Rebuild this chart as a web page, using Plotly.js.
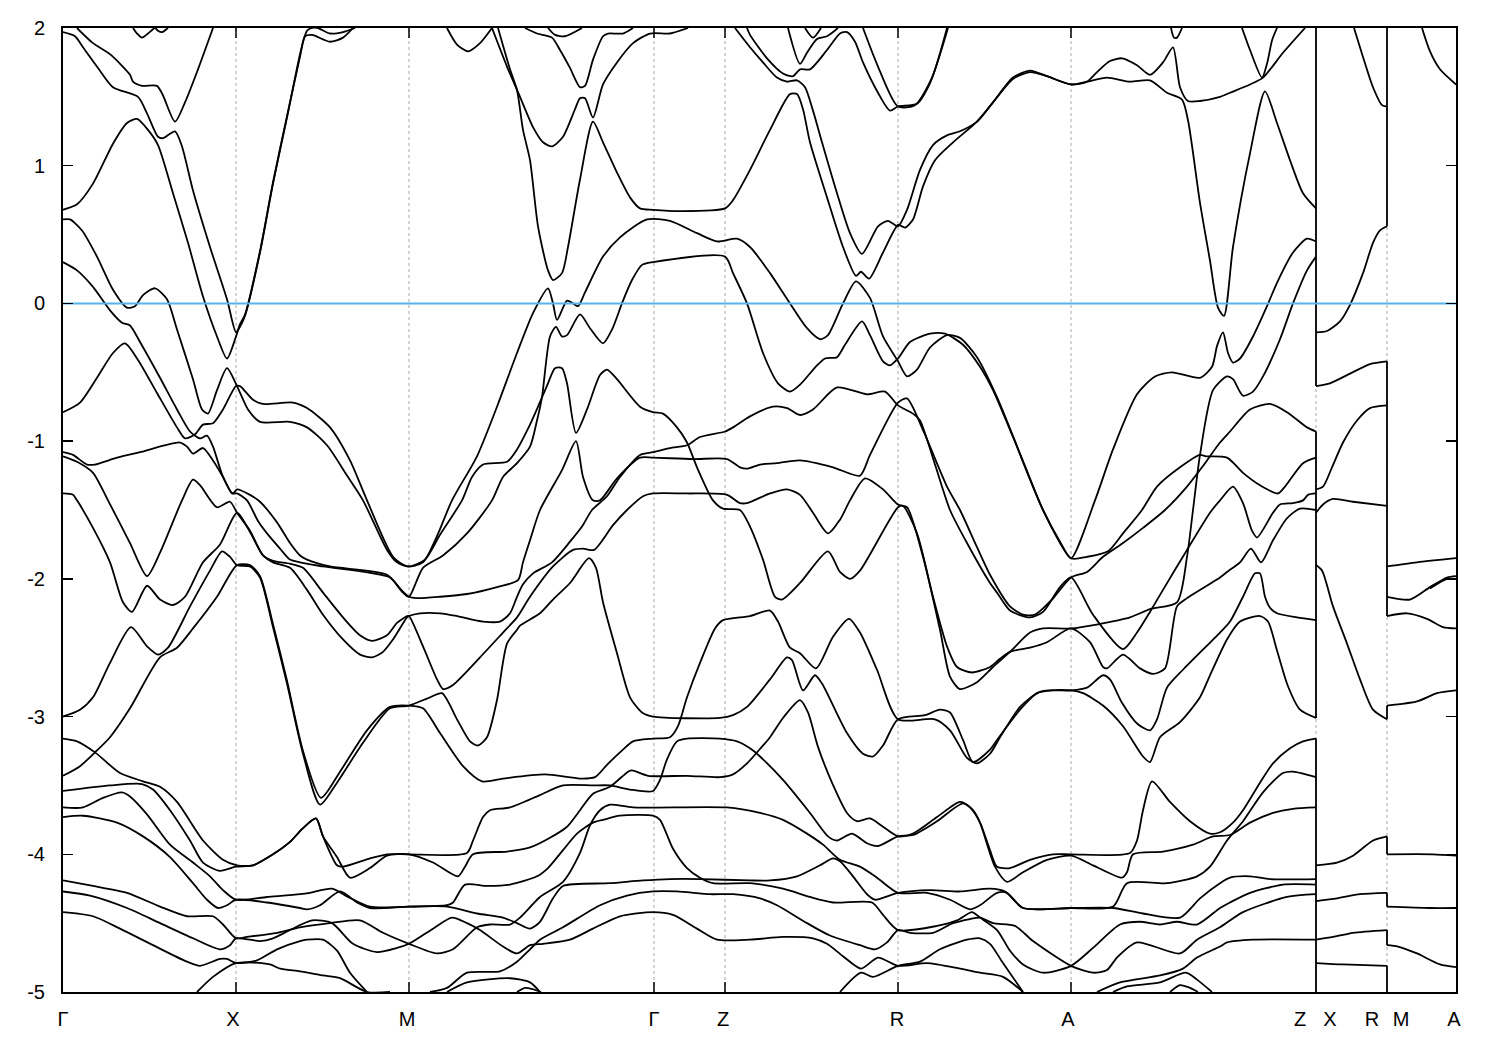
<!DOCTYPE html>
<html><head><meta charset="utf-8">
<script src="https://cdn.plot.ly/plotly-3.0.1.min.js"></script>
<style>html,body{margin:0;padding:0;background:#fff}</style></head>
<body><div id="chart" style="width:1500px;height:1050px"></div>
<script>
// Each band: k0,E0, k1,E1, ... (path coordinate along k, energy)
const bandA=[77,2,93,1.89,110,1.81,130,1.66,133,1.61,142,1.58,157,1.58,163,1.51,175,1.32,185,1.46,198,1.70,213,2];
const bandB=[63,1.97,75,1.94,83,1.86,98,1.71,113,1.57,138,1.50,147,1.38,158,1.21,163,1.20,175,1.25,182,1.14,193,.82,210,.41,227,.03,236,-.21,240,-.17,245,-.09,260,.37,273,.87,287,1.35,301,1.84,307,1.98,312,2,318,2,330,1.96,343,1.97,355,2];
const bandC=[63,.68,77,.72,93,.87,113,1.16,127,1.31,137,1.34,148,1.26,158,1.15,173,.80,188,.44,203,.05,217,-.24,227,-.40,236,-.24,240,-.15,245,-.08,260,.38,273,.88,287,1.36,300,1.79,305,1.94,312,1.95,330,1.90,343,1.93,353,2];
const bandTop1=[133,2,137,1.96,142,1.93,148,1.96,155,2,158,1.98,162,1.97,168,2];
const bandD=[63,.61,70,.61,82,.53,97,.34,113,.10,127,-.03,135,-.02,143,.06,155,.11,167,.03,177,-.19,193,-.55,202,-.77,208,-.80,217,-.63,227,-.47,237,-.60,248,-.77,260,-.86,290,-.86,307,-.90,327,-1.03,347,-1.25,363,-1.43,387,-1.79,397,-1.88,409,-1.91,425,-1.86,440,-1.68,462,-1.43,472,-1.26,483,-1.17,507,-1.15,517,-1.06,530,-.88,535,-.80,548,-.58,555,-.47,562,-.47,567,-.58,576,-.94,587,-.77,600,-.52,607,-.48,617,-.55,640,-.75,653,-.79,663,-.80,677,-.90,687,-1.01,697,-1.19,713,-1.43,723,-1.49,740,-1.50,750,-1.62,763,-1.86,775,-2.13,782,-2.15,800,-2.03,828,-1.80,840,-1.95,850,-2,860,-1.94,898,-1.48,903,-1.47,917,-1.67,933,-2.13,947,-2.49,957,-2.64,972,-2.68,990,-2.64,1000,-2.58,1010,-2.53,1030,-2.50,1047,-2.46,1071,-2.36,1090,-2.46,1103,-2.64,1107,-2.65,1123,-2.55,1140,-2.65,1153,-2.69,1165,-2.65,1177,-2.20,1187,-2.14,1220,-1.99,1227,-1.95,1240,-1.88,1251,-1.78,1261,-1.88,1273,-1.72,1287,-1.56,1300,-1.49,1316,-1.50];
const bandF=[63,-.79,80,-.72,97,-.54,113,-.36,125,-.29,138,-.41,157,-.65,177,-.90,185,-.98,195,-.95,203,-.88,213,-.87,223,-.77,236,-.60,240,-.60,253,-.70,263,-.73,293,-.72,307,-.76,330,-.90,350,-1.14,367,-1.43,393,-1.84,407,-1.91,423,-1.88,437,-1.69,452,-1.43,477,-1.11,497,-.75,517,-.36,533,-.07,548,.11,553,0,557,-.12,567,.02,573,0,578,-.02,585,.08,603,.34,620,.48,647,.61,670,.60,697,.51,717,.45,737,.47,750,.41,770,.22,790,0,807,-.18,820,-.26,828,-.23,843,0,856,.16,870,.04,883,-.24,898,-.42,907,-.53,917,-.48,930,-.32,947,-.23,960,-.25,977,-.39,997,-.68,1020,-1.09,1043,-1.5,1060,-1.73,1071,-1.85,1095,-1.43,1113,-1.06,1137,-.66,1155,-.53,1172,-.50,1200,-.54,1212,-.46,1217,-.31,1223,-.21,1228,-.36,1233,-.43,1240,-.40,1253,-.24,1267,-.02,1277,.15,1293,.37,1307,.47,1316,.45];
const bandE=[63,.30,77,.24,93,.12,110,-.05,122,-.14,130,-.16,140,-.28,160,-.54,177,-.77,190,-.93,200,-.98,207,-.96,213,-1.04,223,-1.26,233,-1.38,237,-1.35,250,-1.39,260,-1.44,277,-1.59,290,-1.74,300,-1.83,307,-1.86,330,-1.91,387,-1.97,403,-2.10,409,-2.13,423,-1.92,443,-1.83,467,-1.67,492,-1.43,503,-1.26,517,-1.16,530,-1.04,537,-.85,542,-.68,550,-.24,556,-.17,562,-.24,567,-.23,580,-.08,590,-.18,603,-.29,612,-.19,623,.02,632,.17,642,.28,653,.30,725,.34,733,.22,747,0,763,-.36,778,-.58,790,-.64,800,-.59,817,-.45,825,-.40,837,-.39,845,-.30,862,-.13,870,-.23,883,-.42,890,-.45,898,-.40,910,-.28,930,-.22,945,-.22,963,-.30,980,-.46,993,-.63,1013,-.97,1043,-1.5,1071,-1.85,1087,-1.84,1108,-1.80,1123,-1.67,1142,-1.50,1157,-1.33,1180,-1.19,1200,-1.10,1206,-1.11,1227,-1.12,1243,-1.23,1260,-1.32,1278,-1.38,1285,-1.33,1303,-1.16,1316,-1.12];
const bandG=[63,-1.08,73,-1.10,87,-1.17,95,-1.17,117,-1.12,140,-1.08,180,-1.01,187,-1.04,193,-1.09,203,-1.05,213,-1.14,223,-1.26,232,-1.38,237,-1.38,247,-1.43,258,-1.58,267,-1.67,280,-1.78,290,-1.86,300,-1.88,323,-1.91,390,-1.99,400,-2.07,409,-2.13,417,-2.14,440,-2.13,467,-2.11,497,-2.06,518,-2.01,523,-1.88,530,-1.72,540,-1.50,562,-1.21,576,-1,583,-1.26,593,-1.43,600,-1.43,617,-1.27,640,-1.12,653,-1.12,693,-1.13,727,-1.13,740,-1.19,747,-1.20,760,-1.17,777,-1.16,800,-1.14,833,-1.19,860,-1.25,870,-1.10,898,-.72,907,-.69,923,-.92,947,-1.33,960,-1.50,977,-1.77,990,-1.97,1010,-2.20,1023,-2.26,1035,-2.26,1052,-2.15,1071,-1.99,1087,-1.95,1103,-1.84,1123,-1.74,1143,-1.63,1165,-1.50,1187,-1.33,1202,-1.19,1220,-1.01,1230,-.93,1250,-.77,1270,-.73,1287,-.79,1307,-.90,1316,-.93];
const bandH=[63,-1.11,77,-1.15,93,-1.23,108,-1.43,130,-1.74,147,-1.98,160,-1.81,182,-1.43,193,-1.28,200,-1.32,217,-1.48,230,-1.44,237,-1.52,250,-1.65,263,-1.83,273,-1.87,290,-1.89,303,-1.92,323,-2.10,343,-2.28,360,-2.41,372,-2.45,387,-2.41,397,-2.32,407,-2.27,409,-2.27,423,-2.49,437,-2.73,443,-2.80,453,-2.77,480,-2.57,503,-2.39,517,-2.28,530,-2.13,553,-1.91,573,-1.79,583,-1.78,594,-1.79,613,-1.61,627,-1.50,643,-1.40,653,-1.38,687,-1.38,727,-1.39,740,-1.45,747,-1.45,770,-1.38,787,-1.35,800,-1.39,813,-1.52,828,-1.67,840,-1.57,850,-1.43,865,-1.27,883,-1.35,898,-1.46,907,-1.48,923,-1.84,940,-2.37,950,-2.71,960,-2.80,977,-2.75,993,-2.64,1010,-2.53,1030,-2.39,1043,-2.36,1071,-2.36,1098,-2.33,1130,-2.28,1150,-2.22,1177,-2.17,1187,-1.84,1193,-1.50,1200,-1.10,1213,-.63,1227,-.53,1233,-.55,1243,-.67,1253,-.64,1263,-.53,1280,-.26,1293,0,1307,.24,1316,.34];
const bandI=[63,-1.38,73,-1.39,77,-1.43,93,-1.63,110,-1.88,123,-2.17,132,-2.24,147,-2.05,160,-2.15,173,-2.19,185,-2.13,203,-1.88,220,-1.75,237,-1.52,250,-1.66,263,-1.83,273,-1.88,290,-1.92,307,-2.08,323,-2.26,343,-2.44,360,-2.55,372,-2.57,383,-2.53,393,-2.44,407,-2.28,409,-2.27,420,-2.25,440,-2.25,457,-2.27,483,-2.31,500,-2.31,510,-2.25,517,-2.13,523,-2.04,533,-1.96,552,-1.88,570,-1.73,582,-1.62,592,-1.50,607,-1.40,620,-1.26,640,-1.10,653,-1.08,670,-1.05,687,-1.03,700,-.97,725,-.93,733,-.90,750,-.82,773,-.75,787,-.76,800,-.81,813,-.77,837,-.61,867,-.66,885,-.64,898,-.74,913,-.80,920,-.85,935,-1.17,950,-1.50,967,-1.74,990,-2.03,997,-2.10,1010,-2.23,1030,-2.28,1043,-2.24,1060,-2.06,1071,-1.99,1093,-2.26,1123,-2.51,1137,-2.39,1150,-2.24,1163,-2.08,1187,-1.79,1210,-1.52,1220,-1.43,1233,-1.33,1243,-1.45,1252,-1.65,1257,-1.70,1273,-1.52,1280,-1.46,1293,-1.45,1303,-1.43,1308,-1.39,1316,-1.38];
const bandJ=[63,-3,80,-2.95,93,-2.86,110,-2.61,131,-2.35,147,-2.49,158,-2.55,168,-2.50,190,-2.20,210,-1.94,222,-1.80,230,-1.84,237,-1.90,250,-1.91,260,-1.99,273,-2.35,287,-2.76,303,-3.27,320,-3.64,337,-3.48,363,-3.19,390,-2.94,409,-2.92,430,-2.86,442,-2.83,457,-3.02,470,-3.18,478,-3.21,487,-3.15,497,-2.88,507,-2.47,517,-2.37,520,-2.34,540,-2.25,553,-2.15,570,-2.03,589,-1.85,596,-1.92,603,-2.17,617,-2.54,630,-2.86,642,-2.97,653,-3,720,-3.01,733,-2.99,747,-2.93,770,-2.73,787,-2.57,792,-2.59,803,-2.81,815,-2.70,822,-2.76,847,-3.12,863,-3.27,873,-3.29,883,-3.21,898,-3.02,925,-2.99,940,-2.95,950,-2.97,963,-3.17,973,-3.33,990,-3.24,997,-3.17,1020,-2.95,1037,-2.83,1053,-2.81,1071,-2.81,1087,-2.79,1103,-2.70,1110,-2.73,1122,-2.90,1137,-3.05,1150,-3.10,1157,-3.02,1167,-2.79,1183,-2.66,1220,-2.39,1230,-2.31,1243,-2.13,1255,-1.96,1260,-1.96,1265,-2.13,1270,-2.21,1277,-2.25,1297,-2.28,1316,-2.30];
const bandK=[63,-3.43,80,-3.36,95,-3.26,110,-3.15,130,-2.94,160,-2.57,177,-2.50,193,-2.36,217,-2.13,237,-1.90,250,-1.90,260,-1.98,273,-2.33,287,-2.74,303,-3.25,321,-3.59,340,-3.40,367,-3.10,390,-2.93,409,-2.92,423,-2.94,440,-3.12,463,-3.36,482,-3.47,503,-3.45,545,-3.42,580,-3.45,595,-3.44,607,-3.35,623,-3.24,633,-3.18,653,-3.16,670,-3.15,678,-3.07,687,-2.86,700,-2.61,715,-2.36,723,-2.30,750,-2.27,770,-2.23,778,-2.31,790,-2.50,800,-2.54,816,-2.65,833,-2.42,849,-2.29,860,-2.39,877,-2.66,898,-3.02,935,-3.02,950,-3.10,967,-3.30,977,-3.34,990,-3.27,1000,-3.15,1020,-2.93,1040,-2.82,1071,-2.81,1083,-2.83,1103,-2.92,1123,-3.07,1143,-3.29,1150,-3.33,1160,-3.15,1180,-3.04,1200,-2.86,1210,-2.70,1227,-2.44,1240,-2.31,1260,-2.27,1268,-2.31,1277,-2.52,1288,-2.78,1300,-2.95,1316,-3.01];
const bandL=[63,-3.16,77,-3.18,95,-3.26,120,-3.41,143,-3.47,160,-3.51,177,-3.62,203,-3.90,223,-4.04,237,-4.08,253,-4.08,273,-4,290,-3.91,303,-3.81,316,-3.74,323,-3.87,337,-4.08,343,-4.09,370,-4.03,387,-4,409,-4,467,-3.99,473,-3.90,483,-3.73,490,-3.68,510,-3.66,540,-3.57,563,-3.50,593,-3.50,610,-3.50,630,-3.53,653,-3.54,660,-3.46,667,-3.31,677,-3.18,687,-3.16,720,-3.16,737,-3.18,750,-3.23,760,-3.29,783,-3.46,810,-3.70,828,-3.87,837,-3.90,852,-3.85,867,-3.92,878,-3.94,898,-3.87,913,-3.86,937,-3.76,963,-3.63,973,-3.68,980,-3.77,995,-4.09,1007,-4.20,1023,-4.13,1047,-4.04,1071,-4.01,1093,-4.08,1122,-4.17,1127,-4.13,1133,-4,1163,-3.98,1193,-3.93,1213,-3.87,1230,-3.86,1250,-3.77,1273,-3.70,1293,-3.67,1316,-3.66];
const bandM=[63,-3.54,110,-3.50,142,-3.49,153,-3.53,170,-3.68,190,-3.90,203,-4.06,220,-4.12,236,-4.09,253,-4.08,273,-4,290,-3.91,303,-3.81,316,-3.74,323,-3.87,337,-4.02,350,-4.17,370,-4.10,387,-4.01,409,-4,433,-4.06,458,-4.16,465,-4.09,473,-4,507,-3.98,530,-3.95,550,-3.88,567,-3.80,578,-3.70,593,-3.56,610,-3.51,628,-3.40,632,-3.39,648,-3.43,687,-3.43,720,-3.44,733,-3.42,747,-3.34,757,-3.26,770,-3.15,783,-3.01,800,-2.88,808,-2.97,818,-3.22,832,-3.48,847,-3.70,857,-3.76,870,-3.74,883,-3.80,898,-3.87,913,-3.85,937,-3.73,960,-3.62,970,-3.66,980,-3.77,990,-3.97,997,-4.09,1010,-4.10,1030,-4.04,1053,-4,1071,-4,1130,-3.99,1137,-3.90,1143,-3.68,1152,-3.47,1170,-3.62,1190,-3.76,1210,-3.85,1220,-3.84,1233,-3.77,1243,-3.68,1260,-3.48,1273,-3.34,1290,-3.23,1303,-3.18,1316,-3.16];
const bandN=[63,-3.66,83,-3.66,103,-3.59,122,-3.55,130,-3.58,147,-3.71,170,-3.93,193,-4.06,210,-4.16,223,-4.26,236,-4.33,267,-4.31,300,-4.29,310,-4.28,332,-4.25,348,-4.31,370,-4.38,409,-4.38,447,-4.37,453,-4.35,465,-4.22,487,-4.23,510,-4.22,537,-4.16,548,-4.10,563,-3.97,577,-3.85,593,-3.77,603,-3.75,620,-3.72,653,-3.72,660,-3.75,673,-3.96,687,-4.10,700,-4.17,713,-4.21,750,-4.21,783,-4.25,810,-4.31,833,-4.35,872,-4.35,883,-4.44,898,-4.55,937,-4.52,957,-4.48,972,-4.42,980,-4.46,997,-4.55,1010,-4.70,1023,-4.80,1043,-4.86,1071,-4.81,1093,-4.68,1120,-4.51,1140,-4.49,1160,-4.51,1177,-4.49,1197,-4.51,1220,-4.39,1230,-4.35,1250,-4.28,1283,-4.22,1316,-4.22];
const bandO=[63,-3.73,83,-3.72,117,-3.77,143,-3.87,170,-4.02,193,-4.21,207,-4.33,218,-4.39,227,-4.37,236,-4.33,267,-4.35,300,-4.39,307,-4.40,320,-4.37,340,-4.27,357,-4.35,370,-4.39,409,-4.38,447,-4.38,477,-4.43,503,-4.46,517,-4.50,530,-4.54,540,-4.49,553,-4.32,563,-4.23,610,-4.21,643,-4.19,670,-4.18,700,-4.18,750,-4.19,770,-4.19,797,-4.16,820,-4.08,833,-4.03,840,-4.05,853,-4.16,867,-4.29,875,-4.33,898,-4.28,930,-4.26,960,-4.27,990,-4.25,1005,-4.27,1023,-4.39,1071,-4.39,1113,-4.38,1127,-4.21,1167,-4.21,1197,-4.16,1210,-4.09,1227,-3.90,1243,-3.76,1263,-3.55,1283,-3.41,1293,-3.40,1316,-3.44];
const bandP1=[63,-4.19,93,-4.23,127,-4.28,160,-4.38,187,-4.45,213,-4.45,223,-4.51,236,-4.61,247,-4.60,277,-4.57,300,-4.53,330,-4.50,360,-4.48,383,-4.57,409,-4.65,437,-4.72,453,-4.69,477,-4.53,490,-4.51,510,-4.51,520,-4.46,540,-4.31,563,-4.20,580,-3.99,590,-3.79,600,-3.68,610,-3.64,633,-3.66,727,-3.66,760,-3.70,783,-3.75,807,-3.85,823,-3.93,840,-4.04,860,-4.09,877,-4.17,898,-4.28,927,-4.28,950,-4.33,970,-4.40,980,-4.37,997,-4.28,1007,-4.28,1023,-4.39,1071,-4.39,1113,-4.39,1143,-4.43,1180,-4.46,1200,-4.32,1220,-4.21,1230,-4.17,1250,-4.16,1270,-4.18,1316,-4.18];
const bandP2=[63,-4.27,90,-4.30,127,-4.39,160,-4.50,193,-4.61,220,-4.69,230,-4.66,236,-4.61,260,-4.63,273,-4.61,290,-4.55,312,-4.48,332,-4.50,353,-4.65,377,-4.71,397,-4.68,409,-4.65,433,-4.54,452,-4.46,467,-4.50,480,-4.55,503,-4.67,517,-4.72,530,-4.66,543,-4.65,570,-4.62,593,-4.54,620,-4.45,653,-4.42,673,-4.44,697,-4.54,717,-4.62,750,-4.62,783,-4.60,813,-4.61,827,-4.65,843,-4.74,861,-4.83,878,-4.75,898,-4.81,927,-4.79,960,-4.83,980,-4.86,1003,-4.89,1023,-5];
const bandP3=[63,-4.42,93,-4.45,120,-4.54,153,-4.66,187,-4.78,200,-4.81,220,-4.76,227,-4.76,236,-4.79,257,-4.77,277,-4.69,300,-4.63,307,-4.62,323,-4.62,337,-4.70,350,-4.86,367,-5];
const bandQ1=[197,-5,213,-4.89,236,-4.79,270,-4.80,280,-4.83,300,-4.85,323,-4.88,340,-4.90,367,-5,390,-5];
const bandQ2=[430,-5,447,-4.97,467,-4.86,500,-4.85,517,-4.78,530,-4.69,540,-4.62,563,-4.53,600,-4.37,627,-4.30,653,-4.27,677,-4.27,710,-4.29,733,-4.29,760,-4.32,777,-4.37,807,-4.50,830,-4.59,860,-4.66,875,-4.69,887,-4.64,898,-4.55,910,-4.57,933,-4.57,953,-4.50,970,-4.47,980,-4.46,993,-4.50,1015,-4.52,1033,-4.63,1071,-4.81,1093,-4.86,1107,-4.84,1117,-4.75,1137,-4.64,1180,-4.72,1197,-4.62,1220,-4.53,1243,-4.42,1287,-4.31,1316,-4.29];
const bandQ3=[447,-5,467,-4.93,510,-4.90,530,-4.93,540,-5];
const bandQ4=[517,-5,525,-4.97,533,-4.98,541,-5];
const bandZ1=[840,-5,861,-4.86,873,-4.89,898,-4.81,920,-4.78,940,-4.69,967,-4.62,980,-4.61,990,-4.65,1003,-4.79,1023,-5];
const bandLow1=[1097,-5,1120,-4.93,1160,-4.88,1183,-4.83,1197,-4.75,1220,-4.67,1227,-4.64,1253,-4.62,1316,-4.62];
const bandLow2=[1113,-5,1127,-4.96,1160,-4.93,1186,-4.86,1197,-4.91,1212,-5];
const bandLow3=[1170,-5,1180,-4.95,1190,-4.97,1198,-5];
const bandE1=[525,2,537,1.96,552,1.93,560,1.84,570,1.71,580,1.57,585,1.58,593,1.77,603,1.94,608,1.96,623,1.96,633,2];
const bandE2=[548,2,555,1.95,565,1.94,582,2];
const bandTop2=[447,2,457,1.88,468,1.83,480,1.89,492,2];
const bandE3=[492,2,507,1.72,520,1.50,533,1.28,543,1.17,552,1.14,563,1.21,575,1.41,580,1.49,585,1.49,593,1.35,603,1.59,617,1.75,633,1.89,650,1.96,670,1.96,688,2];
const bandE4=[498,2,510,1.70,517,1.55,523,1.26,530,1.04,538,.56,548,.24,553,.17,562,.22,568,.41,580,.90,593,1.32,603,1.17,617,.95,630,.77,640,.69,653,.68,680,.67,725,.69,733,.75,750,.97,770,1.26,790,1.52,797,1.52,803,1.41,810,1.17,827,.77,843,.41,856,.20,861,.23,869,.18,883,.37,898,.57,902,.56,905,.55,913,.61,923,.85,935,1.04,953,1.17,977,1.32,993,1.46,1013,1.64,1030,1.69,1047,1.65,1071,1.59,1087,1.61,1097,1.68,1110,1.76,1122,1.78,1137,1.73,1150,1.66,1163,1.75,1173,1.86,1180,1.57,1188,1.47,1200,1.47,1220,1.50,1230,1.53,1250,1.59,1263,1.64,1283,1.82,1305,2];
const bandF1=[735,2,750,1.86,763,1.75,777,1.64,787,1.61,797,1.62,805,1.57,813,1.40,822,1.17,837,.80,850,.51,862,.36,878,.56,888,.60,898,.56,907,.68,920,.97,933,1.15,947,1.22,960,1.25,977,1.32,993,1.46,1013,1.63,1030,1.68,1047,1.65,1071,1.59,1087,1.61,1107,1.64,1130,1.61,1150,1.62,1167,1.53,1182,1.48,1188,1.33,1200,.73,1210,.31,1218,-.03,1224,-.09,1233,.41,1250,1.09,1265,1.54,1277,1.31,1290,1.04,1303,.80,1316,.69];
const bandF2=[747,2,750,1.95,767,1.78,783,1.67,793,1.65,800,1.70,810,1.70,827,1.84,840,1.96,847,1.97,855,1.90,863,1.75,878,1.53,890,1.40,898,1.43,917,1.45,930,1.60,948,2];
const bandF3=[788,2,800,1.74,807,1.82,817,1.92,827,1.94,838,2];
const bandF4=[863,2,878,1.72,898,1.43,915,1.44,932,1.64,947,2];
const bandF5=[805,2,813,1.93,821,2];
const bandC4=[1242,2,1250,1.84,1262,1.64,1267,1.74,1272,1.91,1277,2];
const bandTop3=[1171,2,1174,1.93,1177,1.93,1182,2];
// X to R
const xr1=[1316,-.21,1327,-.20,1340,-.13,1350,-.01,1363,.22,1373,.44,1380,.53,1387,.56];
const xr2=[1316,-.60,1330,-.58,1350,-.51,1370,-.44,1387,-.42];
const xr3=[1316,-1.35,1323,-1.33,1332,-1.19,1343,-1.01,1357,-.85,1370,-.76,1387,-.74];
const xr4=[1354,2,1363,1.79,1373,1.57,1382,1.44,1387,1.43];
const xr5=[1316,-1.52,1323,-1.46,1333,-1.42,1353,-1.44,1387,-1.47];
const xr6=[1316,-1.90,1322,-1.94,1333,-2.20,1347,-2.47,1360,-2.73,1373,-2.95,1387,-3.02];
const xr7=[1316,-4.08,1337,-4.06,1353,-4.01,1373,-3.90,1387,-3.87];
const xr8=[1316,-4.34,1337,-4.32,1360,-4.29,1387,-4.28];
const xr9=[1316,-4.62,1333,-4.60,1353,-4.57,1387,-4.55];
const xr10=[1316,-4.79,1343,-4.80,1387,-4.81];
// M to A
const ma1=[1422,2,1430,1.83,1440,1.70,1456,1.59];
const ma2=[1387,-1.91,1417,-1.88,1456,-1.85];
const ma3=[1387,-2.13,1410,-2.15,1430,-2.06,1447,-1.99,1456,-1.98];
const ma3b=[1430,-2.07,1447,-2.0,1456,-2.0];
const ma4=[1387,-2.27,1407,-2.25,1427,-2.29,1443,-2.35,1456,-2.36];
const ma5=[1387,-2.92,1417,-2.89,1437,-2.83,1456,-2.81];
const ma6=[1387,-4,1433,-4,1456,-4.01];
const ma7=[1387,-4.38,1430,-4.39,1456,-4.39];
const ma8=[1387,-4.66,1398,-4.67,1417,-4.72,1440,-4.80,1456,-4.82];
// Discontinuities of the path: the jump lines at Z|X and R|M
const breakZX=1316, breakRM=1387;
const jumpsZX=[[2,-.60],[-.93,-3.01],[-3.16,-5]];
const jumpsRM=[[2,.56],[-.42,-2.27],[-2.92,-3.02],[-3.87,-4],[-4.28,-4.38],[-4.55,-4.66],[-4.81,-5]];
const symPoints=[236,409,654,725,898,1071,1316,1387];
const tickedPoints=[236,409,654,725,898,1071];
const labelPos=[63,233,407,654,723,897,1068,1300,1330,1372,1401,1454];
const labelText=['Γ','X','M','Γ','Z','R','A','Z','X','R','M','A'];
const yTicks=[2,1,0,-1,-2,-3,-4,-5];
const yTickText=['2','1','0','-1','-2','-3','-4','-5'];

const bands=[bandA,bandB,bandC,bandTop1,bandD,bandF,bandE,bandG,bandH,bandI,bandJ,bandK,bandL,bandM,bandN,bandO,bandP1,bandP2,bandP3,bandQ1,bandQ2,bandQ3,bandQ4,bandZ1,bandLow1,bandLow2,bandLow3,bandE1,bandE2,bandTop2,bandE3,bandE4,bandF1,bandF2,bandF3,bandF4,bandF5,bandC4,bandTop3,xr1,xr2,xr3,xr4,xr5,xr6,xr7,xr8,xr9,xr10,ma1,ma2,ma3,ma3b,ma4,ma5,ma6,ma7,ma8];
const black='#000';
const traces=bands.map(b=>({type:'scatter',mode:'lines',hoverinfo:'skip',
  x:b.filter((_,i)=>i%2===0),y:b.filter((_,i)=>i%2===1),
  line:{color:black,width:1.8,shape:'spline',smoothing:0.7}}));
[[breakZX,jumpsZX],[breakRM,jumpsRM]].forEach(([k,js])=>js.forEach(j=>traces.push({type:'scatter',mode:'lines',hoverinfo:'skip',x:[k,k],y:j,line:{color:black,width:1.8}})));
traces.push({type:'scatter',mode:'lines',hoverinfo:'skip',x:[63,1456],y:[0,0],line:{color:'#56b4e9',width:2}});

const shapes=symPoints.map(k=>({type:'line',xref:'x',yref:'paper',x0:k,x1:k,y0:0,y1:1,layer:'below',line:{color:'#a8a8a8',width:1,dash:'3px,3px'}}));
tickedPoints.forEach(k=>{
  shapes.push({type:'line',xref:'x',yref:'paper',x0:k,x1:k,y0:0,y1:0.0104,line:{color:black,width:1.5}});
  shapes.push({type:'line',xref:'x',yref:'paper',x0:k,x1:k,y0:0.9896,y1:1,line:{color:black,width:1.5}});
});
const font={family:'"Liberation Sans",Arial,sans-serif',size:20,color:black};
Plotly.newPlot('chart',traces,{
  width:1500,height:1050,showlegend:false,paper_bgcolor:'#fff',plot_bgcolor:'#fff',
  margin:{l:63,r:44,t:28,b:58,pad:0},font:font,shapes:shapes,
  xaxis:{range:[63,1456],tickmode:'array',tickvals:labelPos,ticktext:labelText,ticks:'',ticklabelstandoff:8,showgrid:false,zeroline:false,
    showline:true,mirror:true,linecolor:black,linewidth:2,tickfont:font},
  yaxis:{range:[-5,2],tickmode:'array',tickvals:yTicks,ticktext:yTickText,ticks:'inside',ticklen:10,tickwidth:1.5,tickcolor:black,ticklabelstandoff:12,
    showgrid:false,zeroline:false,showline:true,mirror:'ticks',linecolor:black,linewidth:2,tickfont:font}
},{staticPlot:true,displayModeBar:false});
</script></body></html>
